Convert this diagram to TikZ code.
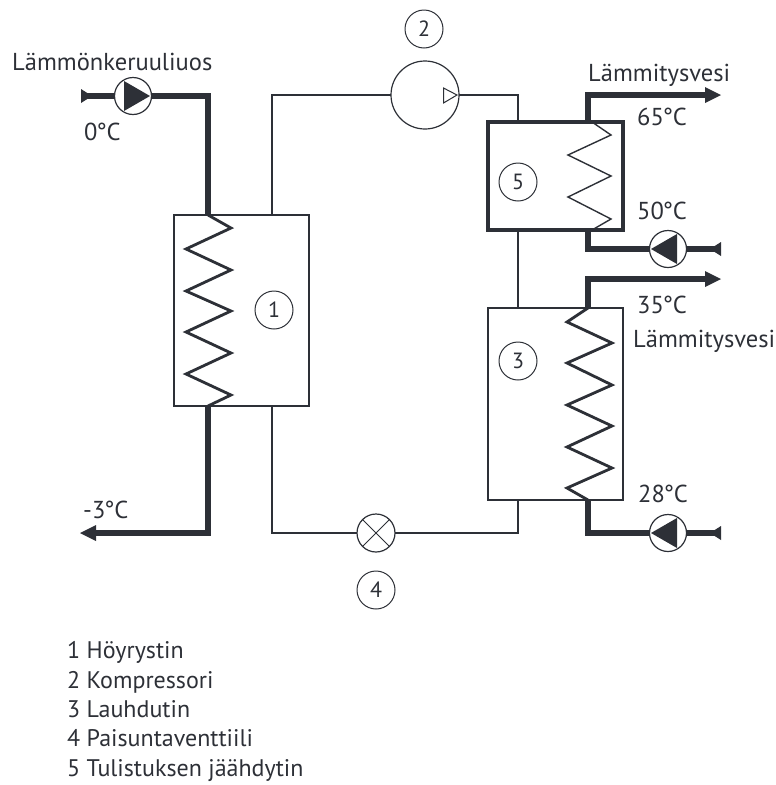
\documentclass[tikz,border=0pt]{standalone}
\usepackage{fontspec}
\setmainfont{PT Sans}
\definecolor{ink}{HTML}{2D3037}
\newcommand{\dg}{\kern-0.05em°\kern-0.01em}
\tikzset{
  x=1pt,y=-1pt,
  every path/.style={line join=miter},
  thin line/.style={draw=ink,line width=2pt},
  thick line/.style={draw=ink,line width=6pt},
  hx/.style={rectangle,draw=ink,line width=2.4pt,inner sep=0,outer sep=0,fill=white},
  hxheavy/.style={hx,line width=3.6pt},
  numc/.style={circle,draw=ink,line width=1pt,minimum size=38pt,inner sep=0,font=\fontsize{22}{22}\selectfont,text=ink},
  machine/.style={circle,draw=ink,line width=1.2pt,inner sep=0,outer sep=0,fill=white},
  pumpc/.style={machine,minimum size=37pt},
  lab/.style={anchor=base west,inner sep=0,font=\fontsize{24.5}{24.5}\selectfont,text=ink},
  keyl/.style={anchor=base west,inner sep=0,font=\fontsize{24}{24}\selectfont,text=ink},
  tip/.style={fill=ink,draw=none},
}
\begin{document}
\begin{tikzpicture}
\useasboundingbox (0,0) rectangle (776,785);
% coordinates
\coordinate (cL1) at (208,96);  \coordinate (cL2) at (208,533);
\coordinate (inL) at (84,96);   \coordinate (outL) at (95,533);
\coordinate (top1) at (272,95); \coordinate (bot1) at (272,533);
\coordinate (r1) at (518,95);   \coordinate (r2) at (518,533);
\coordinate (a5) at (588,95);   \coordinate (b5) at (588,249);
\coordinate (a3) at (588,279);  \coordinate (b3) at (588,533);
\coordinate (e5) at (705,95);   \coordinate (e3) at (705,279);
\coordinate (t5) at (718,249);  \coordinate (t3) at (718,533);
% machines and heat exchangers
\node[hx,minimum width=135pt,minimum height=191pt] (evap) at (241.5,310.5) {};
\node[hxheavy,minimum width=135pt,minimum height=108pt] (desup) at (555.5,176) {};
\node[hx,minimum width=135pt,minimum height=192pt] (cond) at (555.5,404) {};
\node[machine,minimum size=68pt] (comp) at (425,95) {};
\node[machine,minimum size=38pt] (valve) at (376,533) {};
\node[pumpc] (pL) at (133,96) {};
\node[pumpc] (p5) at (668,249) {};
\node[pumpc] (p3) at (668,533) {};
% refrigerant circuit
\draw[thin line] (evap.north -| top1) -- (top1) -- (comp.west);
\draw[thin line] (comp.east) -- (r1) -- (desup.north -| r1);
\draw[thin line] (desup.south -| r1) -- (cond.north -| r1);
\draw[thin line] (cond.south -| r2) -- (r2) -- (valve.east);
\draw[thin line] (valve.west) -- (bot1) -- (evap.south -| bot1);
% brine and heating water
\draw[thick line] (inL) -- (pL.west);
\draw[thick line] (pL.east) -- (cL1) -- (evap.north -| cL1);
\draw[thick line] (evap.south -| cL2) -- (cL2) -- (outL);
\draw[thick line] (desup.north -| a5) -- (a5) -- (e5);
\draw[thick line] (desup.south -| b5) -- (b5) -- (p5.west);
\draw[thick line] (p5.east) -- (t5);
\draw[thick line] (cond.north -| a3) -- (a3) -- (e3);
\draw[thick line] (cond.south -| b3) -- (b3) -- (p3.west);
\draw[thick line] (p3.east) -- (t3);
% arrow tips and pipe ends
\fill[tip] (705,87) -- (721,95) -- (705,103) -- cycle;
\fill[tip] (705,271) -- (721,279) -- (705,287) -- cycle;
\fill[tip] (96,525) -- (80,533) -- (96,541) -- cycle;
\fill[tip] (81,89) -- (92,96) -- (81,103) -- cycle;
\fill[tip] (721,242) -- (710,249) -- (721,256) -- cycle;
\fill[tip] (721,526) -- (710,533) -- (721,540) -- cycle;
% pump triangles
\fill[tip] (124,81) -- (150,96) -- (124,111) -- cycle;
\fill[tip] (677,234) -- (651,249) -- (677,264) -- cycle;
\fill[tip] (677,518) -- (651,533) -- (677,548) -- cycle;
% compressor triangle and valve cross
\draw[draw=ink,line width=1pt,fill=white] (443.5,88) -- (457,95) -- (443.5,103) -- cycle;
\draw[ink,line width=1pt] (valve.north west) -- (valve.south east) (valve.north east) -- (valve.south west);
% coils
\draw[ink,line width=2.8pt] (208,215) -- (231,228) -- (186,249) -- (231,270) -- (186,291) -- (231,311) -- (186,332) -- (231,353) -- (186,374) -- (231,395) -- (208,406);
\draw[ink,line width=2.8pt] (588,308) -- (567,322) -- (612,343) -- (567,363) -- (612,385) -- (567,405) -- (612,426) -- (567,447) -- (612,468) -- (567,488) -- (588,500);
\draw[ink,line width=1.4pt] (592,122) -- (611,135) -- (568,155) -- (611,176) -- (568,197) -- (611,219) -- (592,230);
% numbers
\node[numc] (n1) at (274,310) {1};
\node[numc] (n2) at (424,29) {2};
\node[numc] (n3) at (518,361) {3};
\node[numc] (n4) at (376,590) {4};
\node[numc] (n5) at (518,182) {5};
% labels
\node[lab] (l1) at (12,70) {Lämmönkeruuliuos};
\node[lab] (l2) at (84,140) {0\dg C};
\node[lab] (l3) at (588,81) {Lämmitysvesi};
\node[lab] (l4) at (637,125) {65\dg C};
\node[lab] (l5) at (637,219) {50\dg C};
\node[lab] (l6) at (637,313) {35\dg C};
\node[lab] (l7) at (633,347) {Lämmitysvesi};
\node[lab] (l8) at (638,502) {28\dg C};
\node[lab] (l9) at (83,518) {-3\dg C};
\node[keyl] (k1) at (67,658) {1 Höyrystin};
\node[keyl] (k2) at (67,688) {2 Kompressori};
\node[keyl] (k3) at (67,717) {3 Lauhdutin};
\node[keyl] (k4) at (67,746) {4 Paisuntaventtiili};
\node[keyl] (k5) at (67,776) {5 Tulistuksen jäähdytin};
\end{tikzpicture}
\end{document}
